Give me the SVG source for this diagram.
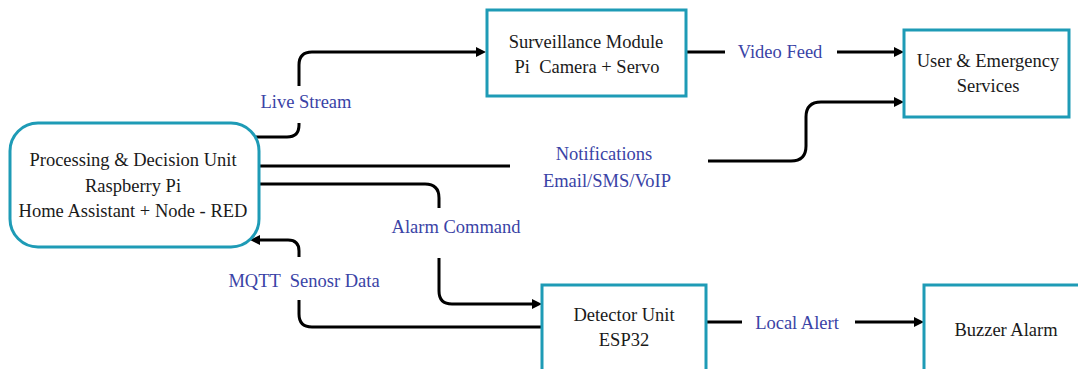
<svg xmlns="http://www.w3.org/2000/svg" width="1078" height="369" viewBox="0 0 1078 369">
<style>
  .node { fill: #ffffff; stroke: #1e9bb6; stroke-width: 3; }
  .txt { font-family: "Liberation Serif", "Times New Roman", serif; font-size: 18.5px; fill: #1a1a1a; text-anchor: middle; white-space: pre; }
  .lbl { font-family: "Liberation Serif", "Times New Roman", serif; font-size: 18.5px; fill: #3a43a6; text-anchor: middle; white-space: pre; }
  .conn { fill: none; stroke: #000000; stroke-width: 3; stroke-linecap: butt; }
  .arr { marker-end: url(#arrow); }
</style>
<defs>
  <marker id="arrow" viewBox="0 0 10 10" markerUnits="userSpaceOnUse" markerWidth="10" markerHeight="11" refX="4" refY="5" orient="auto">
    <path d="M0,0 L10,5 L0,10 z" fill="#000000"/>
  </marker>
</defs>
<rect width="1078" height="369" fill="#ffffff"/>
<g id="connectors">
  <path class="conn" d="M245,137 H287 Q299,137 299,125 V123"/>
  <path class="conn arr" d="M299,86 V65 Q299,52 312,52 H480"/>
  <path class="conn" d="M686,52 H725"/>
  <path class="conn arr" d="M837,52 H898"/>
  <path class="conn" d="M250,166 H510"/>
  <path class="conn arr" d="M708,161 H791 Q806,161 806,146 V117 Q806,102 821,102 H898"/>
  <path class="conn" d="M250,184 H425 Q439,184 439,198 V208"/>
  <path class="conn arr" d="M439,258 V291 Q439,304 452,304 H536"/>
  <path class="conn" d="M542,327 H312 Q299,327 299,314 V300"/>
  <path class="conn arr" d="M299,257 V251 Q299,240 288,240 H256"/>
  <path class="conn" d="M706,322 H742"/>
  <path class="conn arr" d="M855,322 H918"/>
  <text class="lbl" x="306" y="108">Live Stream</text>
  <text class="lbl" x="780" y="58">Video Feed</text>
  <text class="lbl" x="604" y="160">Notifications</text>
  <text class="lbl" x="607" y="187">Email/SMS/VoIP</text>
  <text class="lbl" x="456" y="233">Alarm Command</text>
  <text class="lbl" x="304" y="287">MQTT  Senosr Data</text>
  <text class="lbl" x="797" y="329">Local Alert</text>
</g>
<g id="processing">
  <rect class="node" x="10" y="123" width="249" height="124" rx="28" ry="28"/>
  <text class="txt" x="133" y="166">Processing &amp; Decision Unit</text>
  <text class="txt" x="133" y="192">Raspberry Pi</text>
  <text class="txt" x="133" y="217">Home Assistant + Node - RED</text>
</g>
<g id="surveillance">
  <rect class="node" x="487" y="10" width="199" height="86"/>
  <text class="txt" x="586" y="48">Surveillance Module</text>
  <text class="txt" x="587" y="73">Pi  Camera + Servo</text>
</g>
<g id="user">
  <rect class="node" x="904" y="30" width="165" height="87"/>
  <text class="txt" x="988" y="67">User &amp; Emergency</text>
  <text class="txt" x="988" y="92">Services</text>
</g>
<g id="detector">
  <rect class="node" x="542" y="285" width="164" height="100"/>
  <text class="txt" x="624" y="321">Detector Unit</text>
  <text class="txt" x="624" y="346">ESP32</text>
</g>
<g id="buzzer">
  <rect class="node" x="924" y="285" width="170" height="100"/>
  <text class="txt" x="1006" y="336">Buzzer Alarm</text>
</g>
</svg>
